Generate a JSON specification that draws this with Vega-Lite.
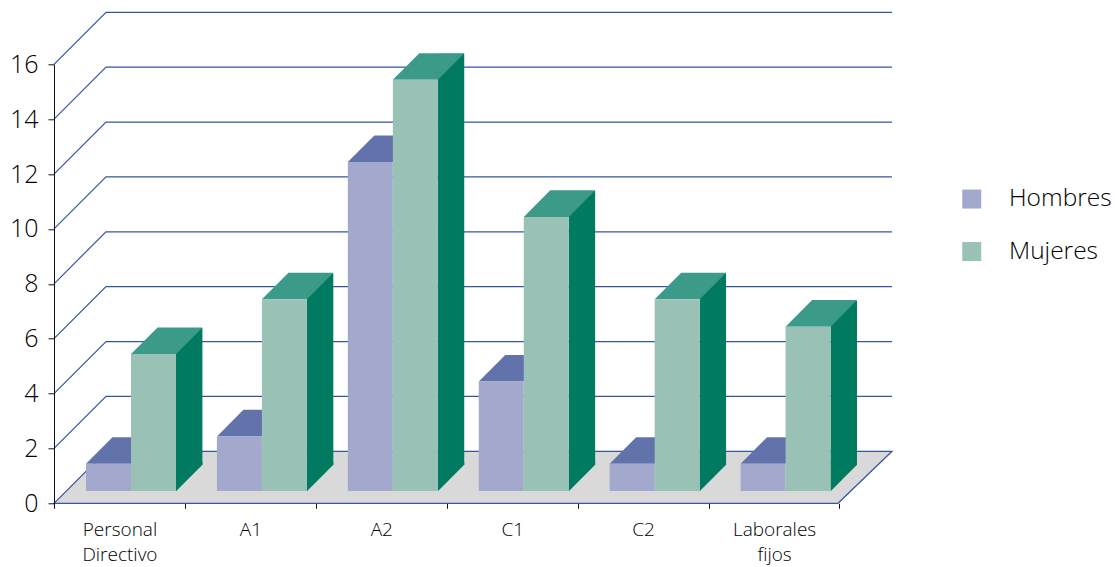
{
  "$schema": "https://vega.github.io/schema/vega-lite/v6.json",
  "width": 785.5,
  "height": 439,
  "autosize": {"type": "none"},
  "padding": {"left": 54, "top": 64.3, "right": 277.5, "bottom": 63.7},
  "background": "white",
  "config": {"view": {"stroke": null}, "font": "Open Sans", "axis": {"grid": false, "title": null}},
  "datasets": {
    "bars": [
      {"categoria": "Personal Directivo", "serie": "Hombres", "valor": 1},
      {"categoria": "Personal Directivo", "serie": "Mujeres", "valor": 5},
      {"categoria": "A1", "serie": "Hombres", "valor": 2},
      {"categoria": "A1", "serie": "Mujeres", "valor": 7},
      {"categoria": "A2", "serie": "Hombres", "valor": 12},
      {"categoria": "A2", "serie": "Mujeres", "valor": 15},
      {"categoria": "C1", "serie": "Hombres", "valor": 4},
      {"categoria": "C1", "serie": "Mujeres", "valor": 10},
      {"categoria": "C2", "serie": "Hombres", "valor": 1},
      {"categoria": "C2", "serie": "Mujeres", "valor": 7},
      {"categoria": "Laborales fijos", "serie": "Hombres", "valor": 1},
      {"categoria": "Laborales fijos", "serie": "Mujeres", "valor": 6}
    ],
    "grid": [{"v": 0}, {"v": 2}, {"v": 4}, {"v": 6}, {"v": 8}, {"v": 10}, {"v": 12}, {"v": 14}, {"v": 16}]
  },
  "encoding": {
    "y": {"field": "valor", "type": "quantitative", "scale": {"domain": [0, 16], "nice": false},
      "axis": {"values": [0, 2, 4, 6, 8, 10, 12, 14, 16], "tickSize": 6, "tickColor": "#111111", "domainColor": "#111111", "labelColor": "#000000", "labelFontSize": 25, "labelFontWeight": 300, "labelPadding": 10, "zindex": 1}}
  },
  "layer": [
    {
      "data": {"name": "grid"},
      "transform": [{"filter": "datum.v == 0"}],
      "mark": {"type": "point", "shape": "M0,0 L784,0 L838,-52 L52,-52 Z", "size": 4, "fill": "#D9D9D9", "stroke": "#35559F", "strokeWidth": 1.2, "opacity": 1, "clip": false},
      "encoding": {"x": {"value": 0}, "y": {"field": "v", "type": "quantitative"}}
    },
    {
      "data": {"name": "grid"},
      "transform": [{"filter": "datum.v > 0"}],
      "mark": {"type": "point", "shape": "M0,0 L52,-52 L838,-52", "size": 4, "filled": false, "stroke": "#35559F", "strokeWidth": 1.2, "opacity": 1, "clip": false},
      "encoding": {"x": {"value": 0}, "y": {"field": "v", "type": "quantitative"}}
    },
    {
      "data": {"name": "bars"},
      "transform": [{"filter": {"field": "serie", "equal": "Mujeres"}}],
      "mark": {"type": "rule", "strokeWidth": 26.4, "color": "#007A60", "yOffset": -38, "y2Offset": -38.6},
      "encoding": {
        "x": {"field": "categoria", "type": "nominal", "sort": null},
        "xOffset": {"value": 135.2},
        "y": {"field": "valor", "type": "quantitative"},
        "y2": {"datum": 0}
      }
    },
    {
      "data": {"name": "bars"},
      "transform": [{"filter": {"field": "serie", "equal": "Mujeres"}}],
      "mark": {"type": "point", "shape": "M0,-12 L26.4,-38.6 L26.4,-41 L0,-41 Z", "size": 4, "filled": true, "color": "#007A60", "strokeWidth": 0, "opacity": 1},
      "encoding": {
        "x": {"field": "categoria", "type": "nominal", "sort": null},
        "xOffset": {"value": 122},
        "y": {"datum": 0}
      }
    },
    {
      "data": {"name": "bars"},
      "transform": [{"filter": {"field": "serie", "equal": "Hombres"}}],
      "mark": {"type": "point", "shape": "M-22.5,-12 L22.5,-12 L49,-38.6 L4,-38.6 Z", "size": 4, "filled": true, "color": "#6272AB", "strokeWidth": 0, "opacity": 1},
      "encoding": {
        "x": {"field": "categoria", "type": "nominal", "sort": null},
        "xOffset": {"field": "serie", "type": "nominal"}
      }
    },
    {
      "data": {"name": "bars"},
      "transform": [{"filter": {"field": "serie", "equal": "Mujeres"}}],
      "mark": {"type": "point", "shape": "M-22.5,-12 L22.5,-12 L49,-38.6 L4,-38.6 Z", "size": 4, "filled": true, "color": "#3C9A88", "strokeWidth": 0, "opacity": 1},
      "encoding": {
        "x": {"field": "categoria", "type": "nominal", "sort": null},
        "xOffset": {"field": "serie", "type": "nominal"}
      }
    },
    {
      "data": {"name": "bars"},
      "mark": {"type": "bar", "yOffset": -12, "y2Offset": -12.4},
      "encoding": {
        "x": {"field": "categoria", "type": "nominal", "sort": null,
          "scale": {"paddingInner": 0, "paddingOuter": 0},
          "axis": {"title": null, "labelAngle": 0, "labelAlign": "center", "tickBand": "extent", "tickSize": 5, "tickColor": "#111111", "domain": false, "labelColor": "#000000", "labelFontSize": 19, "labelFontWeight": 300, "labelPadding": 21, "labelLineHeight": 25,
            "labelExpr": "datum.label == 'Personal Directivo' ? ['Personal', 'Directivo'] : datum.label == 'Laborales fijos' ? ['Laborales', 'fijos'] : datum.label"}},
        "xOffset": {"field": "serie", "type": "nominal", "scale": {"range": [32, 122]}},
        "y2": {"datum": 0},
        "color": {"field": "serie", "type": "nominal",
          "scale": {"domain": ["Hombres", "Mujeres"], "range": ["#A3A9CD", "#9AC1B6"]},
          "legend": {"title": null, "orient": "none", "legendX": 905.5, "legendY": 122.5, "symbolType": "square", "symbolSize": 361, "symbolStrokeWidth": 0, "labelFontSize": 24.5, "labelFontWeight": 300, "labelColor": "#000000", "labelOffset": 25, "rowPadding": 27.5, "padding": 0}}
      }
    }
  ]
}
